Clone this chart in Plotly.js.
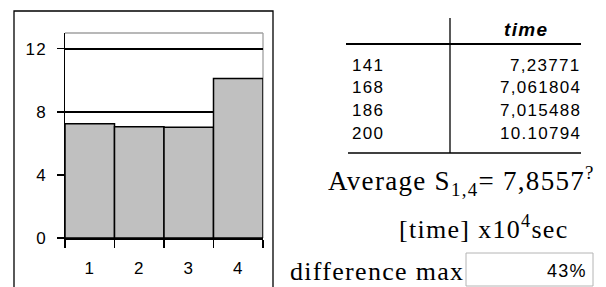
<!DOCTYPE html>
<html>
<head>
<meta charset="utf-8">
<script src="https://cdn.plot.ly/plotly-3.0.1.min.js"></script>
<style>
html, body { margin: 0; padding: 0; background: #fff; }
#chart { width: 606px; height: 287px; }
.annotation-text, .xtick text, .ytick text { letter-spacing: 1.3px; }
</style>
</head>
<body>
<div id="chart"></div>
<script>
// ---- data ----
const categories = ['1', '2', '3', '4'];
const times = [7.23771, 7.061804, 7.015488, 10.10794];
const rowLabels = ['141', '168', '186', '200'];
const timeLabels = ['7,23771', '7,061804', '7,015488', '10.10794'];
const yTickVals = [0, 4, 8, 12];
const headerLabel = 'time';
const averageLabel = '7,8557';
const diffMaxLabel = '43%';

// ---- layout helpers (pixel -> paper) ----
const W = 606, H = 287;
const L = 65, R = 263, T = 33, B = 238;
const pw = R - L, ph = B - T;
const px = v => (v - L) / pw;
const py = v => (B - v) / ph;

const SANS = 'Liberation Sans, Arial, sans-serif';
const SERIF = 'Liberation Serif, Times New Roman, serif';

const trace = {
  type: 'bar',
  x: categories,
  y: times,
  marker: { color: '#c0c0c0', line: { color: '#000', width: 1.5 } },
  hoverinfo: 'none'
};

const annotations = [];
function ann(text, x, y, xanchor, font) {
  annotations.push({
    xref: 'paper', yref: 'paper', x: px(x), y: py(y),
    xanchor: xanchor, yanchor: 'middle', text: text, showarrow: false,
    font: font, borderpad: 0, borderwidth: 0
  });
}
ann('<b><i>' + headerLabel + '</i></b>', 526, 30, 'center', { family: SANS, size: 19, color: '#000' });
const rowY = [65, 87, 110, 133];
rowLabels.forEach((r, i) => ann(r, 352, rowY[i], 'left', { family: SANS, size: 17, color: '#000' }));
timeLabels.forEach((t, i) => ann(t, 581, rowY[i], 'right', { family: SANS, size: 17, color: '#000' }));
ann('Average S<sub>1,4</sub>= ' + averageLabel + '<sup>?</sup>', 595, 181, 'right', { family: SERIF, size: 27, color: '#000' });
ann('[time] x10<sup>4</sup>sec', 569, 227, 'right', { family: SERIF, size: 26, color: '#000' });
ann('difference max', 464, 271, 'right', { family: SERIF, size: 26, color: '#000' });
ann(diffMaxLabel, 587, 271, 'right', { family: SANS, size: 18, color: '#000' });

const line = (x0, y0, x1, y1, color, width, layer) => ({
  type: 'line', xref: 'paper', yref: 'paper',
  x0: px(x0), y0: py(y0), x1: px(x1), y1: py(y1),
  line: { color: color, width: width }, layer: layer || 'above'
});

const shapes = [
  // outer chart frame
  { type: 'rect', xref: 'paper', yref: 'paper', x0: px(14), y0: py(11), x1: px(273), y1: py(300),
    line: { color: '#000', width: 1.3 }, layer: 'below' },
  // plot area top & right (gray)
  line(L, T, R, T, '#a0a0a0', 1.3, 'below'),
  line(R, T, R, B, '#a0a0a0', 1.3, 'below'),
  // table lines
  line(450, 18, 450, 153, '#000', 1.3),
  line(346, 44, 581, 44, '#000', 2),
  line(348, 153, 581, 153, '#000', 1.3),
  // box around difference value
  { type: 'rect', xref: 'paper', yref: 'paper', x0: px(466), y0: py(253), x1: px(593), y1: py(286),
    line: { color: '#b4b4b4', width: 1 } }
];

const layout = {
  width: W, height: H,
  margin: { l: L, r: W - R, t: T, b: H - B, pad: 0 },
  paper_bgcolor: '#fff', plot_bgcolor: '#fff',
  showlegend: false,
  bargap: 0,
  font: { family: SANS, size: 17, color: '#000' },
  xaxis: {
    type: 'category',
    tickson: 'boundaries',
    ticks: 'outside', ticklen: 8, tickwidth: 1.3, tickcolor: '#000',
    showline: true, linecolor: '#000', linewidth: 1.5,
    showgrid: false, zeroline: false,
    ticklabelstandoff: 14,
    tickfont: { family: SANS, size: 17, color: '#000' },
    fixedrange: true
  },
  yaxis: {
    range: [0, 13],
    tickvals: yTickVals,
    ticks: 'outside', ticklen: 7, tickwidth: 1.3, tickcolor: '#000',
    showline: true, linecolor: '#000', linewidth: 1.5,
    showgrid: true, gridcolor: '#000', gridwidth: 1.5,
    zeroline: false,
    ticklabelstandoff: 6,
    tickfont: { family: SANS, size: 17, color: '#000' },
    fixedrange: true
  },
  shapes: shapes,
  annotations: annotations
};

Plotly.newPlot('chart', [trace], layout, { staticPlot: true, displayModeBar: false });
</script>
</body>
</html>
